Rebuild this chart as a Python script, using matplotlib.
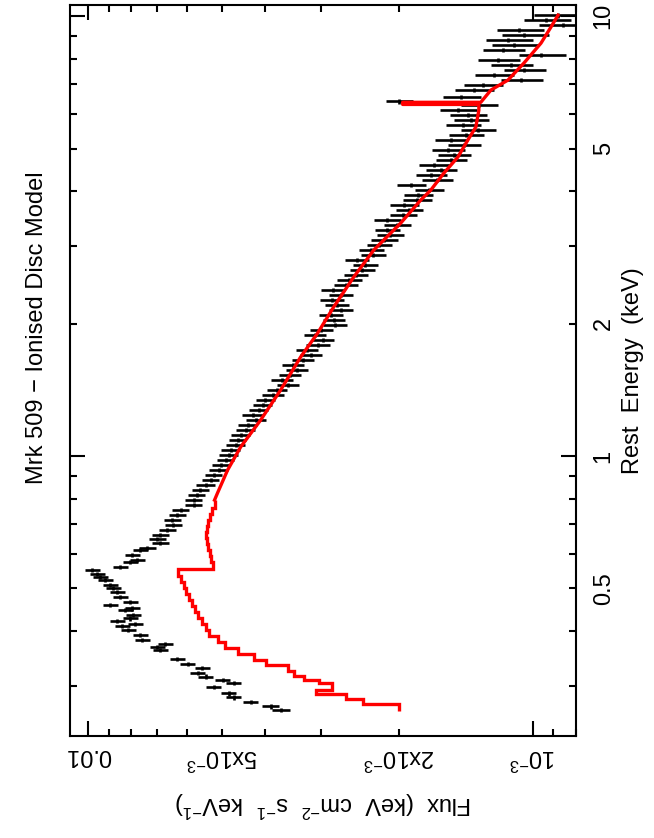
import numpy as np
import matplotlib
matplotlib.use("Agg")
import matplotlib.pyplot as plt
from matplotlib.ticker import FixedLocator, FixedFormatter

plt.rcParams['font.family'] = ['Liberation Sans', 'DejaVu Sans']
plt.rcParams['mathtext.fontset'] = 'custom'
plt.rcParams['mathtext.rm'] = 'Liberation Sans'
plt.rcParams['mathtext.it'] = 'Liberation Sans:italic'
plt.rcParams['mathtext.bf'] = 'Liberation Sans:bold'

# ---- data: soft band (below ~0.8 keV) ----
soft_energy = [0.265, 0.270, 0.276, 0.283, 0.289, 0.2985, 0.305, 0.310, 0.315, 0.321,
               0.330, 0.337, 0.346, 0.362, 0.368, 0.374, 0.382, 0.392, 0.402, 0.411,
               0.415, 0.422, 0.428, 0.435, 0.447, 0.451, 0.459, 0.466, 0.478, 0.491,
               0.501, 0.509, 0.523, 0.531, 0.539, 0.551, 0.560, 0.574, 0.580, 0.596,
               0.612, 0.618, 0.634, 0.648, 0.661, 0.679, 0.697, 0.716, 0.734, 0.754,
               0.774]
soft_flux = [3.694e-3, 3.891e-3, 4.316e-3, 4.714e-3, 4.838e-3, 5.230e-3, 4.714e-3, 4.991e-3, 5.451e-3, 5.682e-3,
             5.538e-3, 5.984e-3, 6.303e-3, 6.883e-3, 6.991e-3, 6.707e-3, 7.557e-3, 7.636e-3, 8.127e-3, 8.385e-3,
             7.837e-3, 8.603e-3, 8.044e-3, 7.919e-3, 8.254e-3, 7.960e-3, 8.920e-3, 8.044e-3, 8.480e-3, 8.603e-3,
             8.784e-3, 8.920e-3, 9.156e-3, 9.400e-3, 9.545e-3, 9.795e-3, 8.480e-3, 8.044e-3, 7.756e-3, 7.960e-3,
             7.636e-3, 7.363e-3, 6.883e-3, 6.991e-3, 6.883e-3, 6.638e-3, 6.435e-3, 6.468e-3, 6.303e-3, 6.205e-3,
             5.801e-3]
soft_frac_err = [0.045, 0.045, 0.04, 0.04, 0.04, 0.04, 0.04, 0.04, 0.04, 0.04,
                 0.04, 0.04, 0.04, 0.04, 0.04, 0.04, 0.04, 0.04, 0.04, 0.04,
                 0.04, 0.04, 0.04, 0.04, 0.04, 0.04, 0.04, 0.04, 0.04, 0.04,
                 0.04, 0.04, 0.04, 0.04, 0.04, 0.04, 0.04, 0.04, 0.04, 0.04,
                 0.04, 0.045, 0.045, 0.045, 0.045, 0.045, 0.045, 0.045, 0.045, 0.045,
                 0.045]

# ---- data: hard band (~0.8 - 10 keV) ----
hard_energy = [0.794, 0.815, 0.837, 0.859, 0.882, 0.905, 0.929, 0.954, 0.979, 1.005,
               1.032, 1.059, 1.087, 1.116, 1.146, 1.176, 1.207, 1.239, 1.272, 1.306,
               1.340, 1.376, 1.413, 1.450, 1.488, 1.528, 1.568, 1.610, 1.653, 1.697,
               1.741, 1.788, 1.835, 1.884, 1.933, 1.985, 2.038, 2.092, 2.147, 2.204,
               2.262, 2.322, 2.384, 2.447, 2.512, 2.579, 2.647, 2.718, 2.790, 2.864,
               2.939, 3.017, 3.097, 3.180, 3.264, 3.351, 3.439, 3.531, 3.624, 3.721,
               3.819, 3.921, 4.024, 4.131, 4.240, 4.353, 4.467, 4.586, 4.707, 4.832,
               4.960, 5.092, 5.227, 5.366, 5.508, 5.654, 5.803, 5.957, 6.114, 6.277,
               6.400, 6.550, 6.792, 6.970, 7.155, 7.345, 7.539, 7.739, 7.943, 8.154,
               8.370, 8.592, 8.820, 9.054, 9.293, 9.540, 9.792, 10.05]
hard_flux = [5.801e-3, 5.711e-3, 5.596e-3, 5.451e-3, 5.311e-3, 5.230e-3, 5.096e-3, 5.043e-3, 4.914e-3, 4.838e-3,
             4.788e-3, 4.666e-3, 4.618e-3, 4.546e-3, 4.430e-3, 4.384e-3, 4.205e-3, 4.272e-3, 4.141e-3, 4.056e-3,
             4.000e-3, 3.851e-3, 3.772e-3, 3.563e-3, 3.675e-3, 3.526e-3, 3.401e-3, 3.472e-3, 3.296e-3, 3.162e-3,
             3.228e-3, 3.050e-3, 2.972e-3, 3.097e-3, 3.000e-3, 2.792e-3, 2.807e-3, 2.851e-3, 2.706e-3, 2.763e-3,
             2.836e-3, 2.706e-3, 2.821e-3, 2.637e-3, 2.597e-3, 2.504e-3, 2.427e-3, 2.390e-3, 2.491e-3, 2.293e-3,
             2.317e-3, 2.222e-3, 2.166e-3, 2.100e-3, 2.132e-3, 2.025e-3, 2.132e-3, 1.963e-3, 1.903e-3, 1.953e-3,
             1.826e-3, 1.816e-3, 1.715e-3, 1.883e-3, 1.645e-3, 1.697e-3, 1.611e-3, 1.671e-3, 1.529e-3, 1.506e-3,
             1.553e-3, 1.429e-3, 1.529e-3, 1.415e-3, 1.330e-3, 1.437e-3, 1.379e-3, 1.401e-3, 1.475e-3, 1.323e-3,
             2.003e-3, 1.452e-3, 1.358e-3, 1.296e-3, 1.064e-3, 1.224e-3, 1.048e-3, 1.121e-3, 1.199e-3, 0.959e-3,
             1.168e-3, 1.103e-3, 1.138e-3, 1.048e-3, 1.075e-3, 0.856e-3, 0.935e-3, 0.878e-3]
hard_frac_err = [0.045, 0.045, 0.045, 0.05, 0.045, 0.045, 0.05, 0.045, 0.045, 0.05,
                 0.05, 0.05, 0.045, 0.05, 0.05, 0.05, 0.05, 0.055, 0.05, 0.05,
                 0.05, 0.055, 0.05, 0.055, 0.055, 0.055, 0.055, 0.055, 0.055, 0.055,
                 0.055, 0.06, 0.055, 0.055, 0.06, 0.06, 0.055, 0.06, 0.06, 0.06,
                 0.06, 0.06, 0.06, 0.06, 0.065, 0.06, 0.065, 0.065, 0.06, 0.065,
                 0.065, 0.065, 0.07, 0.07, 0.065, 0.07, 0.07, 0.07, 0.07, 0.075,
                 0.075, 0.075, 0.075, 0.075, 0.08, 0.08, 0.08, 0.08, 0.08, 0.085,
                 0.085, 0.085, 0.085, 0.09, 0.09, 0.09, 0.09, 0.095, 0.095, 0.095,
                 0.07, 0.10, 0.10, 0.10, 0.11, 0.10, 0.11, 0.11, 0.11, 0.12,
                 0.11, 0.12, 0.12, 0.12, 0.12, 0.13, 0.12, 0.13]
bin_half_frac = 0.012  # half width of each energy bin, relative

# ---- model: binned soft part (energy edges, flux per bin) ----
model_soft_edges = [0.2633, 0.2732, 0.2804, 0.2878, 0.2938, 0.3048, 0.3097, 0.3162, 0.3246, 0.3350,
                    0.3439, 0.3548, 0.3661, 0.3778, 0.3898, 0.4022, 0.4150, 0.4282, 0.4418, 0.4560,
                    0.4706, 0.4858, 0.5012, 0.5171, 0.5336, 0.5537, 0.5742, 0.5926, 0.6115, 0.6310,
                    0.6511, 0.6719, 0.6934, 0.7155, 0.7383, 0.7619, 0.7943]
model_soft_flux = [2.003e-3, 2.415e-3, 2.637e-3, 3.081e-3, 2.836e-3, 3.034e-3, 3.280e-3, 3.454e-3, 3.563e-3, 3.994e-3,
                   4.250e-3, 4.618e-3, 4.940e-3, 5.123e-3, 5.367e-3, 5.451e-3, 5.565e-3, 5.682e-3, 5.771e-3, 5.861e-3,
                   5.953e-3, 6.046e-3, 6.109e-3, 6.205e-3, 6.270e-3, 5.256e-3, 5.311e-3, 5.339e-3, 5.395e-3, 5.423e-3,
                   5.451e-3, 5.423e-3, 5.395e-3, 5.339e-3, 5.284e-3, 5.202e-3]

# ---- model: hard part incl. Fe K line ----
model_hard_energy = [0.7943, 0.824, 0.929, 1.048, 1.207, 1.413, 1.679, 1.903, 2.181, 2.552,
                     2.939, 3.386, 3.819, 4.024, 4.397, 4.782, 5.227, 5.595, 6.114, 6.30,
                     6.30, 6.37, 6.37, 6.792, 7.155, 7.820, 8.682, 9.441, 10.05]
model_hard_flux = [5.202e-3, 5.123e-3, 4.863e-3, 4.546e-3, 4.098e-3, 3.694e-3, 3.331e-3, 3.050e-3, 2.807e-3, 2.530e-3,
                   2.281e-3, 1.983e-3, 1.788e-3, 1.697e-3, 1.586e-3, 1.475e-3, 1.401e-3, 1.344e-3, 1.323e-3, 1.323e-3,
                   1.963e-3, 1.963e-3, 1.310e-3, 1.243e-3, 1.138e-3, 1.048e-3, 0.959e-3, 0.911e-3, 0.878e-3]

# axis ticks
flux_major = [1e-3, 1e-2]
flux_major_labels = [r'$\mathregular{10^{-3}}$', '0.01']
flux_minor = [8e-4, 9e-4, 2e-3, 3e-3, 4e-3, 5e-3, 6e-3, 7e-3, 8e-3, 9e-3]
flux_minor_labels = ['', '', r'2x$\mathregular{10^{-3}}$', '', '', r'5x$\mathregular{10^{-3}}$', '', '', '', '']
energy_major = [1, 10]
energy_major_labels = ['1', '10']
energy_minor = [0.3, 0.4, 0.5, 0.6, 0.7, 0.8, 0.9, 2, 3, 4, 5, 6, 7, 8, 9]
energy_minor_labels = ['', '', '0.5', '', '', '', '', '2', '', '', '5', '', '', '', '']

FS = 17

fig = plt.figure(figsize=(6.54, 8.38), dpi=100)
ax = fig.add_axes([0.1070, 0.1217, 0.7737, 0.8723])

data_e = np.array(soft_energy + hard_energy)
data_f = np.array(soft_flux + hard_flux)
data_ferr = data_f * np.array(soft_frac_err + hard_frac_err)
data_eerr = data_e * bin_half_frac

ax.errorbar(data_f, data_e, xerr=data_ferr, yerr=data_eerr, fmt='none',
            ecolor='black', elinewidth=1.9, capsize=0, zorder=2)
ax.stairs(model_soft_flux, model_soft_edges, orientation='horizontal', baseline=None,
          color='#ff0000', lw=2.4, zorder=3)
ax.plot(model_hard_flux, model_hard_energy, color='#ff0000', lw=2.4, zorder=3)

ax.set_xscale('log')
ax.set_yscale('log')
ax.set_xlim(0.0110, 8.0e-4)
ax.set_ylim(0.231, 10.6)

ax.xaxis.set_major_locator(FixedLocator(flux_major))
ax.xaxis.set_major_formatter(FixedFormatter(flux_major_labels))
ax.xaxis.set_minor_locator(FixedLocator(flux_minor))
ax.xaxis.set_minor_formatter(FixedFormatter(flux_minor_labels))
ax.yaxis.set_major_locator(FixedLocator(energy_major))
ax.yaxis.set_major_formatter(FixedFormatter(energy_major_labels))
ax.yaxis.set_minor_locator(FixedLocator(energy_minor))
ax.yaxis.set_minor_formatter(FixedFormatter(energy_minor_labels))

ax.tick_params(which='both', direction='in', top=True, bottom=True, left=True, right=True,
               width=1.5, labelsize=FS, colors='black')
ax.tick_params(which='major', length=10.5)
ax.tick_params(which='minor', length=5)
ax.tick_params(axis='x', which='both', labelrotation=180, pad=6)
ax.tick_params(axis='y', which='both', labelleft=False, labelright=True, labelrotation=90, pad=12)
for lab in ax.get_yticklabels(which='both'):
    lab.set_verticalalignment('center')

for s in ax.spines.values():
    s.set_linewidth(1.5)

ax.set_xlabel(r'Flux  (keV  cm$\mathregular{^{-2}}$  s$\mathregular{^{-1}}$  keV$\mathregular{^{-1}}$)',
              fontsize=FS, rotation=180, labelpad=14)
ax.yaxis.set_label_position('right')
ax.set_ylabel('Rest  Energy  (keV)', fontsize=FS, rotation=90, labelpad=5)

fig.text(37 / 654, 1 - 328 / 838, 'Mrk 509 \u2212 Ionised Disc Model', rotation=90,
         ha='center', va='center', fontsize=FS)

fig.savefig('out.png', dpi=100)
